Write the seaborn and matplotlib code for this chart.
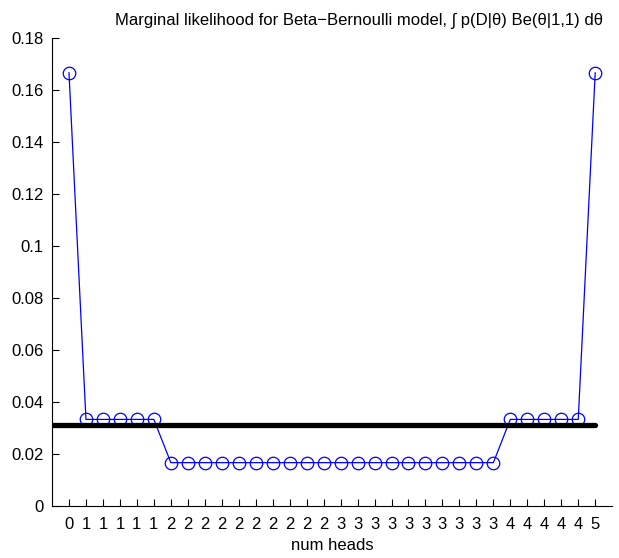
import matplotlib
matplotlib.use("Agg")
import matplotlib.pyplot as plt
import seaborn as sns
import pandas as pd

# Number of heads in each of the 32 length-5 coin sequences (sorted)
num_heads = [0, 1, 1, 1, 1, 1,
             2, 2, 2, 2, 2, 2, 2, 2, 2, 2,
             3, 3, 3, 3, 3, 3, 3, 3, 3, 3,
             4, 4, 4, 4, 4, 5]
# Marginal likelihood of each sequence under a Beta(1,1) prior
marg_lik = [0.1667,
            0.0333, 0.0333, 0.0333, 0.0333, 0.0333,
            0.01667, 0.01667, 0.01667, 0.01667, 0.01667,
            0.01667, 0.01667, 0.01667, 0.01667, 0.01667,
            0.01667, 0.01667, 0.01667, 0.01667, 0.01667,
            0.01667, 0.01667, 0.01667, 0.01667, 0.01667,
            0.0333, 0.0333, 0.0333, 0.0333, 0.0333,
            0.1667]
# Uniform reference level 1/32
uniform_level = 0.03125
yticks = [0, 0.02, 0.04, 0.06, 0.08, 0.1, 0.12, 0.14, 0.16, 0.18]

sns.set_style("ticks", {"axes.edgecolor": "black", "text.color": "black",
                        "xtick.color": "black", "ytick.color": "black",
                        "axes.labelcolor": "black"})
plt.rcParams['font.family'] = ['Liberation Sans', 'DejaVu Sans']

df = pd.DataFrame({"idx": list(range(1, len(marg_lik) + 1)), "p": marg_lik})
ref = pd.DataFrame({"idx": [0, len(marg_lik)], "p": [uniform_level, uniform_level]})

fig = plt.figure(figsize=(6.19, 5.58), dpi=100)
ax = fig.add_axes([0.084, 0.0932, 0.905, 0.8388])

sns.lineplot(data=df, x="idx", y="p", ax=ax, color="blue", linewidth=0.9,
             marker="o", markersize=9, markerfacecolor="none",
             markeredgecolor="blue", markeredgewidth=0.9)
sns.lineplot(data=ref, x="idx", y="p", ax=ax, color="black", linewidth=3.8)

ax.set_xlim(0, 33)
ax.set_ylim(0, 0.18)
ax.set_xticks(df["idx"])
ax.set_xticklabels([str(h) for h in num_heads], fontsize=12)
ax.set_yticks(yticks)
ax.set_yticklabels([f"{t:g}" for t in yticks], fontsize=12)
ax.tick_params(direction="in", length=5, width=0.8, pad=6, colors="black")
ax.tick_params(axis="x", pad=8)
ax.set_xlabel("num heads", fontsize=12, labelpad=4, color="black")
ax.set_ylabel("")
for s in ["top", "right"]:
    ax.spines[s].set_visible(False)
for s in ["left", "bottom"]:
    ax.spines[s].set_linewidth(0.8)
    ax.spines[s].set_color("black")

ax.set_title("Marginal likelihood for Beta\u2212Bernoulli model, \u222b p(D|\u03b8) Be(\u03b8|1,1) d\u03b8",
             fontsize=12, x=0.548, pad=9, color="black")

fig.savefig("out.png", dpi=100)
